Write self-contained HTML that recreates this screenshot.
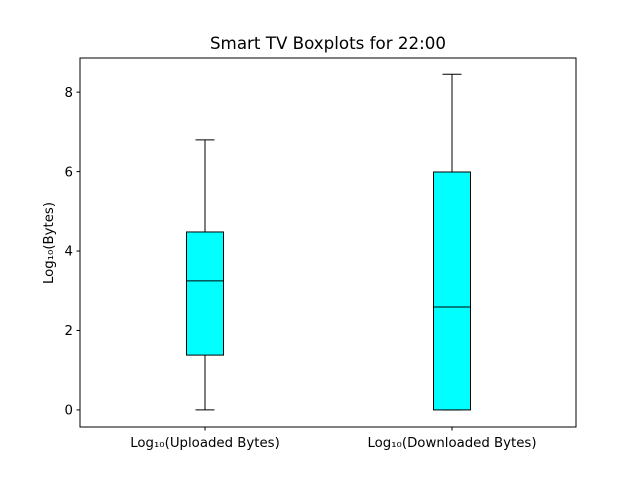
<!DOCTYPE html>
<html><head><meta charset="utf-8"><style>
body{margin:0;background:#fff;}
svg{display:block;font-family:"DejaVu Sans","Liberation Sans",sans-serif;}
</style></head><body>
<svg id="chart" width="640" height="480">
<rect x="0" y="0" width="640" height="480" fill="#fff"/>
<text x="328" y="49" font-size="16.7" text-anchor="middle">Smart TV Boxplots for 22:00</text>
<text transform="translate(53,243) rotate(-90)" font-size="13.3" text-anchor="middle">Log₁₀(Bytes)</text>
<g id="plot"></g>
<rect x="80" y="58" width="496" height="369" fill="none" stroke="#000" stroke-width="1"/>
</svg>
<script>
const categories = ["Log₁₀(Uploaded Bytes)", "Log₁₀(Downloaded Bytes)"];
const whiskerLow = [0, 0];
const q1 = [1.38, 0];
const medians = [3.25, 2.59];
const q3 = [4.48, 5.99];
const whiskerHigh = [6.8, 8.45];
const yTicks = [0, 2, 4, 6, 8];

const ns = "http://www.w3.org/2000/svg";
const g = document.getElementById("plot");
const x0 = 80, x1 = 576, yTop = 58, yBot = 427;
const yMin = -0.43, yMax = 8.86;
function yS(v){ return yBot - (v - yMin) / (yMax - yMin) * (yBot - yTop); }
function xS(i){ return x0 + (i + 0.5) / categories.length * (x1 - x0) - 43 + 86 * i * 0 + (i === 0 ? 0 : 0) + 0; }
function xC(i){ return [205, 452][0] + i * (452 - 205); }
function mk(tag, attrs){ const e = document.createElementNS(ns, tag); for (const k in attrs) e.setAttribute(k, attrs[k]); g.appendChild(e); return e; }

yTicks.forEach(t => {
  const y = yS(t);
  const tk = mk("line", {x1: x0 - 3.5, x2: x0, y1: y, y2: y, stroke: "#000"});
  
  
  const lb = mk("text", {x: x0 - 7, y: y + 4.7, "font-size": 13.3, "text-anchor": "end"});
  lb.textContent = t;
  
  
});

const halfBox = 18.5, halfCap = 9.5;
categories.forEach((c, i) => {
  const cx = xC(i);
  const wl = mk("line", {x1: cx, x2: cx, y1: yS(whiskerLow[i]), y2: yS(q1[i]), stroke: "#000"});
  
  
  const wh = mk("line", {x1: cx, x2: cx, y1: yS(q3[i]), y2: yS(whiskerHigh[i]), stroke: "#000"});
  
  
  const cl = mk("line", {x1: cx - halfCap, x2: cx + halfCap, y1: yS(whiskerLow[i]), y2: yS(whiskerLow[i]), stroke: "#000"});
  
  
  const ch = mk("line", {x1: cx - halfCap, x2: cx + halfCap, y1: yS(whiskerHigh[i]), y2: yS(whiskerHigh[i]), stroke: "#000"});
  
  
  const bx = mk("rect", {x: cx - halfBox, y: yS(q3[i]), width: 2 * halfBox, height: yS(q1[i]) - yS(q3[i]), fill: "#00ffff", stroke: "#000"});
  
  
  const md = mk("line", {x1: cx - halfBox, x2: cx + halfBox, y1: yS(medians[i]), y2: yS(medians[i]), stroke: "#000"});
  
  
  const tk = mk("line", {x1: cx, x2: cx, y1: yBot, y2: yBot + 3.5, stroke: "#000"});
  
  
  const lb = mk("text", {x: cx, y: yBot + 20, "font-size": 13.3, "text-anchor": "middle"});
  lb.textContent = c;
  
  
});
</script>
</body></html>
